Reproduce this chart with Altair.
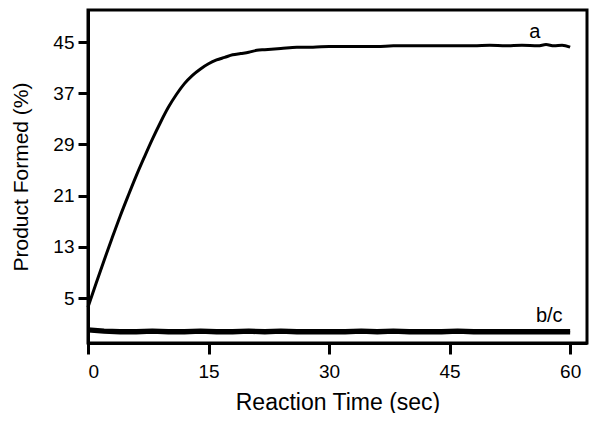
import altair as alt
import pandas as pd

# Curve a
a_time = [0, 1, 2, 3, 4, 5, 6, 7, 8, 9, 10, 11, 12, 13, 14, 15, 16, 17, 18, 19, 20, 21, 22,
          24, 26, 28, 30, 32, 34, 36, 38, 40, 42, 44, 46, 48, 50, 52, 54, 56, 57, 58, 59, 60]
a_vals = [3.6, 7.3, 10.9, 14.4, 17.8, 21.0, 24.1, 27.0, 29.8, 32.4, 34.8, 36.8, 38.5, 39.8, 40.8,
          41.6, 42.2, 42.6, 43.0, 43.2, 43.4, 43.7, 43.8, 44.0, 44.2, 44.2, 44.3, 44.3, 44.3, 44.3,
          44.4, 44.4, 44.4, 44.4, 44.4, 44.4, 44.5, 44.4, 44.5, 44.4, 44.6, 44.4, 44.5, 44.2]

# Curves b and c (overlapping near zero)
bc_time = [0, 2, 4, 6, 8, 10, 12, 14, 16, 18, 20, 22, 24, 26, 28, 30, 32, 34, 36, 38, 40,
           42, 44, 46, 48, 50, 52, 54, 56, 58, 60]
b_vals = [0.2, 0.0, -0.1, -0.1, 0.0, -0.1, -0.1, 0.0, -0.1, -0.1, 0.0, -0.1, 0.0, -0.1, -0.1,
          -0.1, -0.1, 0.0, -0.1, 0.0, -0.1, -0.1, -0.1, 0.0, -0.1, -0.1, -0.1, -0.1, -0.1, -0.1, -0.1]
c_vals = [-0.1, -0.3, -0.4, -0.4, -0.3, -0.4, -0.4, -0.3, -0.4, -0.4, -0.3, -0.4, -0.3, -0.4, -0.4,
          -0.4, -0.4, -0.3, -0.4, -0.3, -0.4, -0.4, -0.4, -0.3, -0.4, -0.4, -0.4, -0.4, -0.4, -0.4, -0.4]

label_text = ["a", "b/c"]
label_x = [55.6, 57.4]
label_y = [45.6, 1.3]

x_ticks = [0, 15, 30, 45, 60]
y_ticks = [5, 13, 21, 29, 37, 45]

df_a = pd.DataFrame({"t": a_time, "v": a_vals, "s": "a"})
df_b = pd.DataFrame({"t": bc_time, "v": b_vals, "s": "b"})
df_c = pd.DataFrame({"t": bc_time, "v": c_vals, "s": "c"})
df_lab = pd.DataFrame({"t": label_x, "v": label_y, "txt": label_text})

FONT = "Liberation Sans"

xs = alt.Scale(domain=[0, 62.1], nice=False, zero=False)
ys = alt.Scale(domain=[-2, 50], nice=False, zero=False)

x_axis = alt.Axis(values=x_ticks, title="Reaction Time (sec)", grid=False,
                  tickSize=11, tickWidth=3, domainWidth=3, domainColor="black", tickColor="black",
                  labelFont=FONT, labelFontSize=19, labelColor="black", labelPadding=8,
                  titleFont=FONT, titleFontSize=23, titleFontWeight="normal", titleColor="black",
                  titlePadding=10)
y_axis = alt.Axis(values=y_ticks, title="Product Formed (%)", grid=False,
                  tickSize=10, tickWidth=3, domainWidth=3, domainColor="black", tickColor="black",
                  labelFont=FONT, labelFontSize=19, labelColor="black", labelPadding=4,
                  titleFont=FONT, titleFontSize=21, titleFontWeight="normal", titleColor="black",
                  titlePadding=21)

line_a = alt.Chart(df_a).mark_line(color="black", strokeWidth=3, interpolate="monotone").encode(
    x=alt.X("t:Q", scale=xs, axis=x_axis),
    y=alt.Y("v:Q", scale=ys, axis=y_axis),
)
line_b = alt.Chart(df_b).mark_line(color="black", strokeWidth=3.5).encode(
    x=alt.X("t:Q", scale=xs), y=alt.Y("v:Q", scale=ys))
line_c = alt.Chart(df_c).mark_line(color="black", strokeWidth=3.5).encode(
    x=alt.X("t:Q", scale=xs), y=alt.Y("v:Q", scale=ys))

labels = alt.Chart(df_lab).mark_text(font=FONT, fontSize=20, color="black",
                                     align="center", baseline="alphabetic").encode(
    x=alt.X("t:Q", scale=xs), y=alt.Y("v:Q", scale=ys), text="txt:N")

chart = alt.layer(line_a, line_b, line_c, labels).properties(
    width=499, height=333,
    autosize=alt.AutoSizeParams(type="none"),
    padding={"left": 80, "top": 2, "right": 5, "bottom": 70},
    background="white",
).configure_view(stroke="black", strokeWidth=3)

chart.save("out.html", embed_options={"renderer": "svg", "actions": False})
